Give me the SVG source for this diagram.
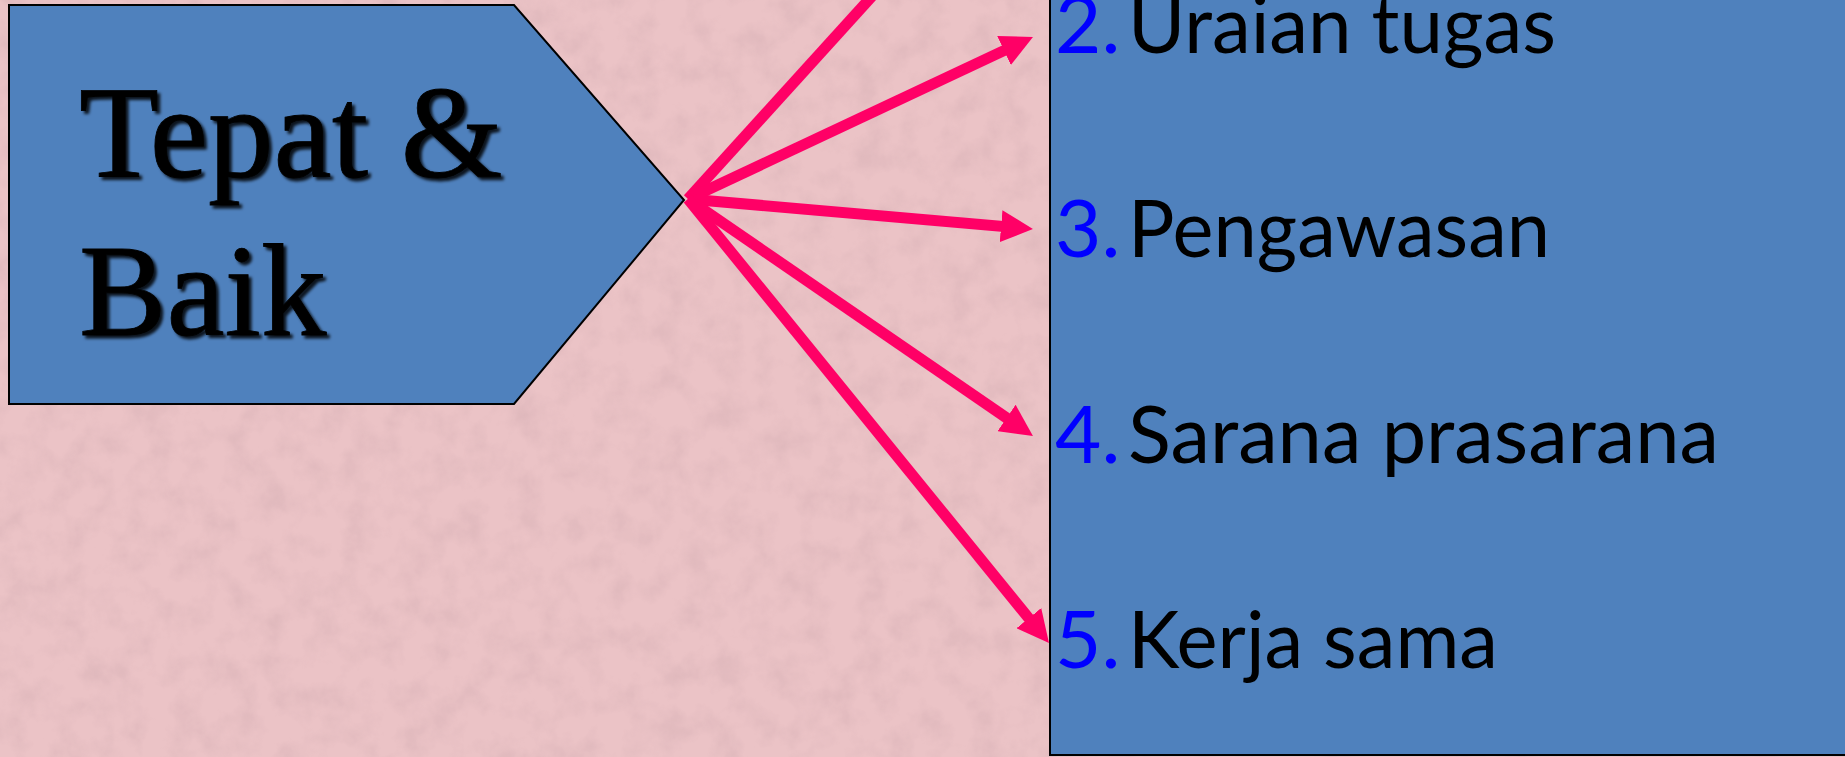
<svg xmlns="http://www.w3.org/2000/svg" width="1845" height="757" viewBox="0 0 1845 757">
<style>
.shape{fill:#4F81BD;stroke:#000;stroke-width:2}
.title{font-family:"Liberation Serif","Times New Roman",serif;font-size:131px;fill:#000;stroke:#000;stroke-width:0.8}
.num{font-family:Lato,"Open Sans",sans-serif;font-size:80px;fill:#0000FF}
.item{font-family:Lato,"Open Sans",sans-serif;font-size:80px;fill:#000}
.arrow{fill:none;stroke:#FF0066;stroke-width:11;marker-end:url(#head)}
</style>
<defs>
<marker id="head" viewBox="0 0 10 10" refX="6" refY="5" markerWidth="32" markerHeight="32" markerUnits="userSpaceOnUse" orient="auto">
<path d="M0,0 L10,5 L0,10 z" fill="#FF0066"/>
</marker>
<filter id="shadow" x="-10%" y="-10%" width="130%" height="130%">
<feDropShadow dx="3" dy="3" stdDeviation="1.8" flood-color="#000" flood-opacity="0.85"/>
</filter>
<filter id="paper" x="0" y="0" width="100%" height="100%">
<feTurbulence type="fractalNoise" baseFrequency="0.035" numOctaves="4" seed="7" result="n"/>
<feColorMatrix in="n" type="matrix" values="0 0 0 0 0.55  0 0 0 0 0.35  0 0 0 0 0.38  0 0 0 1.1 -0.45" result="c"/>
<feComposite in="c" in2="SourceGraphic" operator="in"/>
</filter>
</defs>
<rect id="background" x="0" y="0" width="1845" height="757" fill="#EBC3C6"/>
<rect x="0" y="0" width="1845" height="757" fill="#EBC3C6" filter="url(#paper)" opacity="0.5"/>
<g id="node-tepat-baik">
<polygon class="shape" points="9,5 514,5 684,200 514,404 9,404"/>
<g filter="url(#shadow)">
<text class="title" x="79" y="177">Tepat &amp;</text>
<text class="title" x="79" y="335">Baik</text>
</g>
</g>
<g id="node-list">
<rect class="shape" x="1050" y="-10" width="820" height="765"/>
<text class="num" x="1055" y="53">2.</text>
<text class="item" x="1128" y="53" textLength="428" lengthAdjust="spacingAndGlyphs">Uraian tugas</text>
<text class="num" x="1055" y="257">3.</text>
<text class="item" x="1128" y="257" textLength="422" lengthAdjust="spacingAndGlyphs">Pengawasan</text>
<text class="num" x="1055" y="463">4.</text>
<text class="item" x="1128" y="463" textLength="591" lengthAdjust="spacingAndGlyphs">Sarana prasarana</text>
<text class="num" x="1055" y="668">5.</text>
<text class="item" x="1128" y="668" textLength="370" lengthAdjust="spacingAndGlyphs">Kerja sama</text>
</g>
<g id="connectors">
<line class="arrow" x1="688" y1="199" x2="923" y2="-60"/>
<line class="arrow" x1="688" y1="199" x2="1021.4" y2="42.4"/>
<line class="arrow" x1="688" y1="199" x2="1020.2" y2="227.9"/>
<line class="arrow" x1="688" y1="199" x2="1022.4" y2="428.8"/>
<line class="arrow" x1="688" y1="199" x2="1040.9" y2="633.1"/>
</g>
</svg>
